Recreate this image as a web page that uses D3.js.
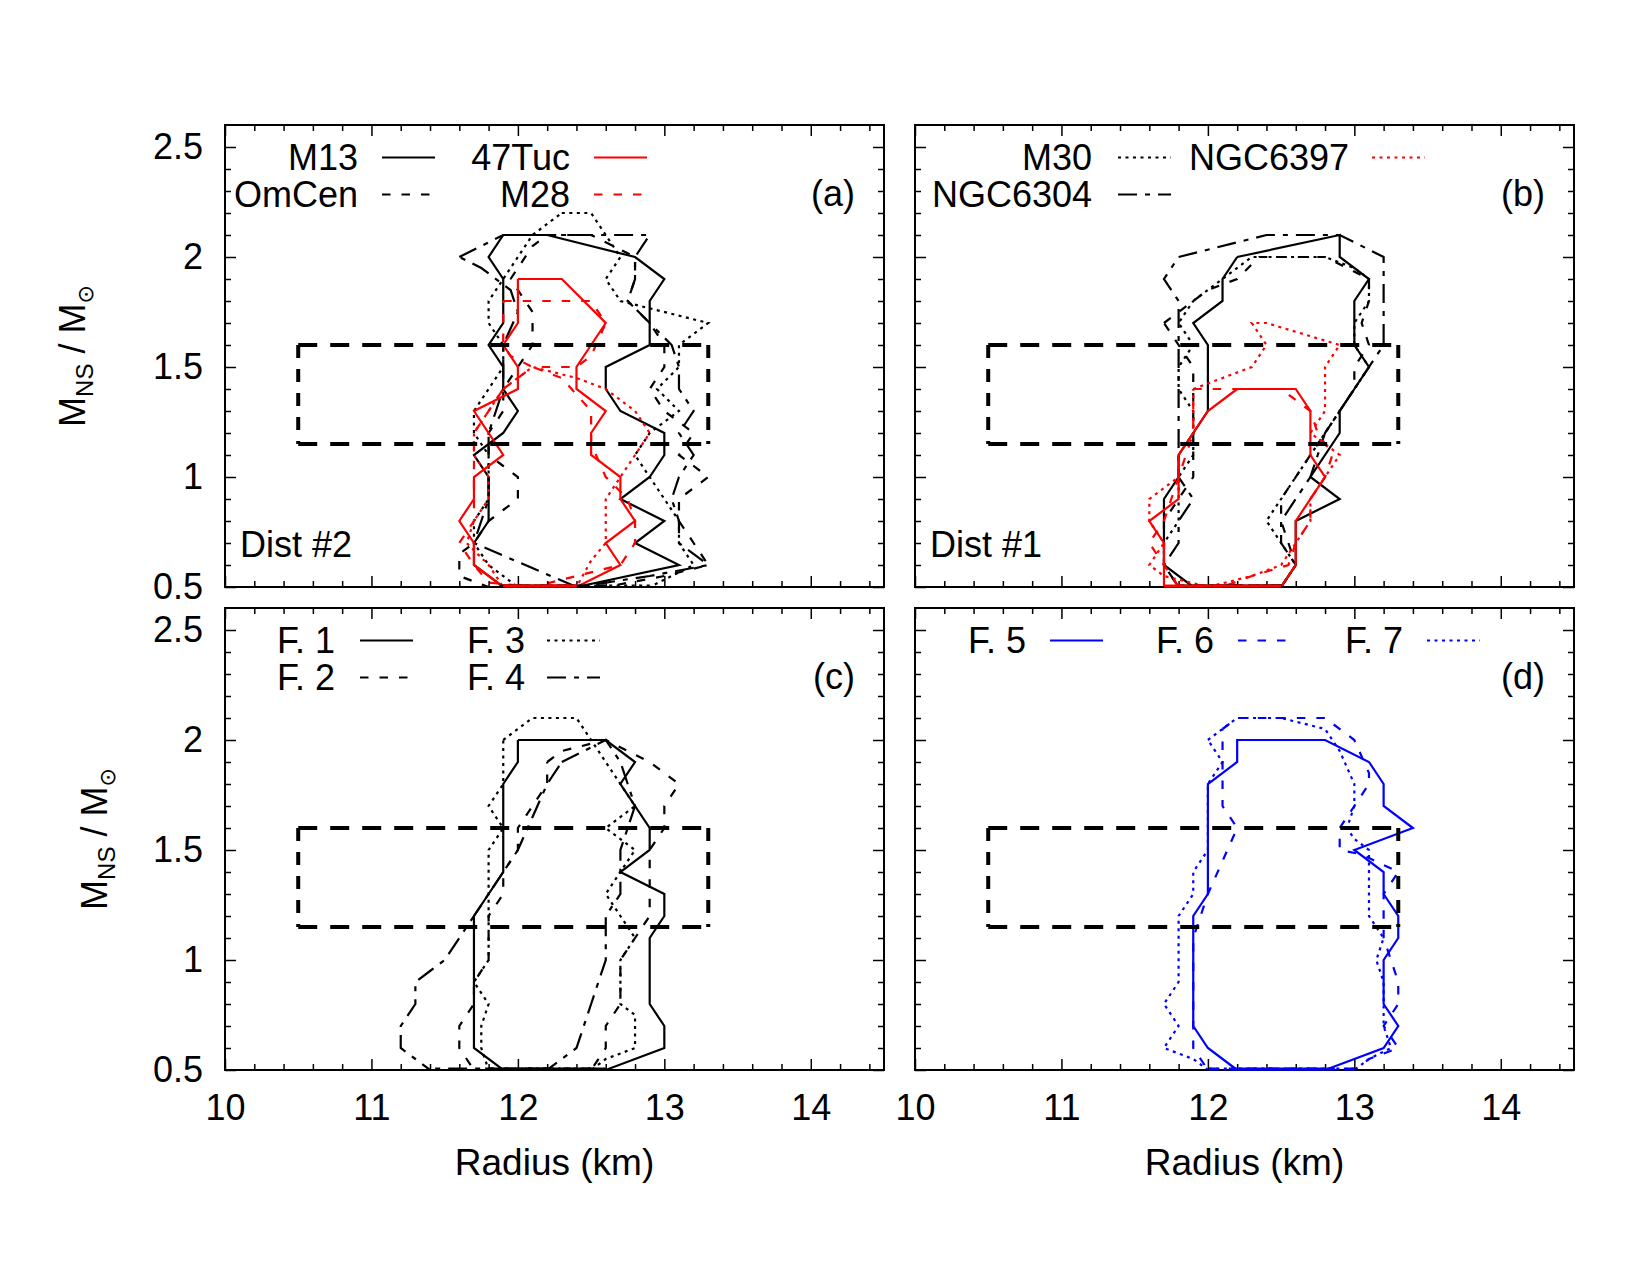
<!DOCTYPE html>
<html>
<head>
<meta charset="utf-8">
<script src="https://cdn.jsdelivr.net/npm/d3@7"></script>
<style>
body { margin: 0; background: #fff; }
svg { display: block; }
text { font-family: "Liberation Sans", Arial, Helvetica, sans-serif; }
</style>
</head>
<body>
<div id="chart"></div>
<script>
var W = 1650, H = 1275;

var xDomain = [10, 14.5];
var yDomain = [0.5, 2.6];
var xTickLabels = [10, 11, 12, 13, 14];
var yTickLabels = [0.5, 1, 1.5, 2, 2.5];
var boxRadius = [10.5, 13.3];
var boxMass = [1.15, 1.6];

// contours, [radius km, mass Msun], Dist #2 (panel a)
var m13A = [[11.9,2.1],[12.2,2.1],[12.8,2.0],[13.0,1.9],[12.9,1.8],[12.9,1.6],[12.6,1.5],[12.6,1.4],[12.7,1.3],[13.0,1.2],[13.0,1.1],[12.9,1.0],[12.7,0.9],[13.0,0.8],[12.8,0.7],[13.1,0.6],[12.4,0.5],[11.9,0.5],[11.7,0.6],[11.7,0.7],[11.8,0.8],[11.8,1.0],[11.7,1.1],[11.9,1.2],[12.0,1.3],[11.9,1.4],[11.9,1.5],[11.8,1.6],[11.9,1.7],[11.9,1.9],[11.8,2.0]];
var omCenA = [[11.95,1.9],[12.1,2.05],[12.2,2.1],[12.5,2.1],[12.8,2.0],[12.8,1.9],[12.75,1.8],[12.9,1.7],[13.0,1.6],[13.0,1.5],[12.9,1.4],[13.0,1.3],[13.2,1.2],[13.1,1.1],[13.3,1.0],[13.1,0.9],[13.1,0.8],[13.2,0.7],[13.3,0.6],[13.0,0.55],[12.6,0.5],[11.8,0.5],[11.6,0.55],[11.6,0.65],[11.7,0.7],[11.8,0.8],[11.9,0.85],[12.0,0.9],[12.0,1.0],[11.9,1.05],[11.8,1.1],[11.8,1.2],[11.9,1.3],[11.9,1.4],[12.0,1.5],[12.1,1.6],[12.1,1.75]];
var m30A = [[12.3,2.2],[12.5,2.2],[12.6,2.1],[12.7,2.0],[12.6,1.9],[12.7,1.8],[13.3,1.7],[13.1,1.6],[13.1,1.5],[12.95,1.4],[13.1,1.3],[12.9,1.2],[12.8,1.1],[12.9,1.0],[13.0,0.9],[13.1,0.8],[13.1,0.7],[13.2,0.6],[12.9,0.5],[12.0,0.5],[11.8,0.6],[11.7,0.7],[11.7,0.8],[11.8,0.9],[11.8,1.0],[11.8,1.1],[11.7,1.2],[11.7,1.3],[11.8,1.4],[11.9,1.5],[11.9,1.6],[11.8,1.7],[11.8,1.8],[11.9,1.9],[12.0,2.0],[12.1,2.1]];
var ngc6304A = [[11.6,2.0],[11.9,2.1],[12.9,2.1],[12.8,2.0],[12.8,1.9],[12.75,1.8],[12.9,1.7],[13.05,1.6],[13.1,1.5],[13.1,1.4],[13.2,1.3],[13.1,1.2],[13.2,1.1],[13.1,1.0],[13.05,0.9],[13.1,0.8],[13.1,0.7],[13.3,0.6],[12.9,0.55],[12.4,0.5],[11.7,0.7],[11.75,0.8],[11.8,0.9],[11.8,1.0],[11.8,1.2],[11.85,1.3],[11.9,1.4],[11.9,1.6],[12.0,1.75],[11.95,1.85],[11.75,1.95]];
var tuc47A = [[12.0,1.9],[12.3,1.9],[12.6,1.7],[12.4,1.5],[12.4,1.4],[12.6,1.3],[12.5,1.2],[12.5,1.1],[12.7,1.0],[12.7,0.9],[12.8,0.8],[12.6,0.7],[12.7,0.6],[12.4,0.5],[11.9,0.5],[11.7,0.6],[11.7,0.7],[11.6,0.8],[11.7,0.9],[11.7,1.0],[11.9,1.1],[11.8,1.2],[11.7,1.3],[12.0,1.4],[12.0,1.5],[11.9,1.6],[12.0,1.7]];
var m28AUpper = [[11.9,1.8],[12.5,1.8],[12.6,1.7],[12.5,1.55],[12.4,1.5],[12.1,1.5],[11.95,1.55],[11.9,1.6]];
var m28ALower = [[11.9,1.4],[12.1,1.5],[12.3,1.45],[12.5,1.3],[12.5,1.15],[12.6,1.0],[12.75,0.9],[12.8,0.8],[12.8,0.7],[12.7,0.6],[12.4,0.55],[12.1,0.5],[11.8,0.52],[11.7,0.6],[11.6,0.7],[11.7,0.8],[11.7,1.0],[11.7,1.2],[11.8,1.3]];
var ngc6397A = [[11.9,1.4],[12.1,1.5],[12.4,1.45],[12.6,1.4],[12.8,1.3],[12.9,1.2],[12.8,1.1],[12.7,1.0],[12.6,0.9],[12.6,0.8],[12.6,0.7],[12.5,0.62],[12.4,0.5],[11.9,0.5],[11.8,0.6],[11.65,0.7],[11.7,0.8],[11.8,0.9],[11.8,1.0],[11.7,1.1],[11.7,1.2],[11.8,1.3]];

// Dist #1 (panel b)
var m13B = [[12.2,2.0],[12.9,2.1],[12.9,2.0],[13.1,1.9],[13.0,1.8],[13.0,1.6],[13.1,1.5],[13.0,1.4],[12.9,1.3],[12.9,1.2],[12.7,1.0],[12.9,0.9],[12.6,0.8],[12.6,0.6],[12.5,0.5],[11.9,0.5],[11.7,0.6],[11.7,0.9],[11.8,1.0],[11.8,1.1],[11.9,1.2],[12.0,1.3],[12.0,1.6],[11.9,1.7],[12.1,1.8],[12.1,1.9]];
var omCenB = [[11.7,1.7],[12.0,1.85],[12.2,1.9],[12.35,2.0],[12.8,2.0],[13.1,1.9],[13.1,1.8],[13.05,1.7],[13.1,1.6],[13.0,1.5],[13.0,1.4],[12.9,1.3],[12.8,1.2],[12.7,1.1],[12.6,1.0],[12.5,0.9],[12.5,0.8],[12.55,0.7],[12.6,0.6],[12.5,0.5],[11.8,0.5],[11.7,0.6],[11.7,0.8],[11.8,0.9],[11.9,1.0],[11.9,1.1],[11.9,1.2],[11.9,1.4],[11.9,1.5],[11.8,1.6]];
var m30B = [[11.9,1.8],[12.1,1.9],[12.3,2.0],[12.8,2.0],[13.0,1.95],[13.1,1.9],[13.1,1.8],[13.0,1.7],[13.0,1.6],[13.1,1.5],[13.0,1.4],[12.9,1.3],[12.8,1.2],[12.7,1.1],[12.6,1.0],[12.5,0.9],[12.4,0.8],[12.5,0.7],[12.6,0.6],[12.5,0.5],[11.8,0.5],[11.7,0.6],[11.7,0.7],[11.8,0.8],[11.8,1.0],[11.9,1.1],[11.9,1.3],[11.8,1.4],[11.8,1.5],[11.9,1.6],[11.8,1.7]];
var ngc6304B = [[11.8,2.0],[12.4,2.1],[12.9,2.1],[13.2,2.0],[13.2,1.9],[13.2,1.6],[13.1,1.5],[13.0,1.4],[12.9,1.3],[12.8,1.2],[12.75,1.1],[12.7,1.0],[12.6,0.9],[12.5,0.8],[12.5,0.7],[12.6,0.6],[12.5,0.5],[11.8,0.5],[11.7,0.6],[11.8,0.7],[11.8,0.8],[11.9,0.9],[11.8,1.0],[11.8,1.2],[11.8,1.5],[11.8,1.8],[11.7,1.9]];
var tuc47B = [[12.2,1.4],[12.6,1.4],[12.7,1.3],[12.7,1.1],[12.8,1.0],[12.6,0.8],[12.6,0.6],[12.5,0.5],[11.7,0.5],[11.7,0.7],[11.6,0.8],[11.8,0.9],[11.8,1.1],[11.9,1.2],[12.0,1.3]];
var m28B = [[11.9,1.4],[12.5,1.4],[12.7,1.3],[12.75,1.2],[12.85,1.1],[12.8,1.0],[12.7,0.9],[12.7,0.8],[12.6,0.7],[12.55,0.6],[12.3,0.55],[12.1,0.5],[11.8,0.5],[11.7,0.6],[11.6,0.7],[11.7,0.8],[11.75,0.9],[11.8,1.0],[11.85,1.1],[11.9,1.2]];
var ngc6397B = [[11.9,1.4],[12.3,1.5],[12.4,1.6],[12.3,1.7],[12.4,1.7],[12.9,1.6],[12.8,1.5],[12.8,1.3],[12.7,1.2],[12.9,1.1],[12.8,1.0],[12.7,0.9],[12.7,0.8],[12.6,0.7],[12.5,0.6],[12.3,0.55],[12.0,0.5],[11.7,0.55],[11.6,0.6],[11.7,0.7],[11.6,0.8],[11.6,0.9],[11.7,0.95],[11.8,1.0],[11.8,1.1],[11.9,1.2]];

// F. 1 - F. 4 (panel c)
var f1 = [[12.0,2.0],[12.6,2.0],[12.8,1.9],[12.7,1.8],[12.9,1.6],[12.9,1.5],[12.7,1.4],[13.0,1.3],[13.0,1.2],[12.9,1.1],[12.9,0.8],[13.0,0.7],[13.0,0.6],[12.6,0.5],[11.9,0.5],[11.7,0.6],[11.7,1.2],[11.9,1.4],[11.9,1.8],[12.0,1.9]];
var f2 = [[12.2,1.9],[12.3,1.95],[12.6,2.0],[12.9,1.9],[13.1,1.8],[13.0,1.7],[13.0,1.6],[12.9,1.5],[12.9,1.3],[12.9,1.2],[12.8,1.1],[12.7,1.0],[12.7,0.8],[12.6,0.7],[12.6,0.6],[12.5,0.5],[11.7,0.5],[11.6,0.6],[11.6,0.7],[11.7,0.8],[11.7,0.9],[11.8,1.0],[11.8,1.2],[11.9,1.3],[11.9,1.4],[12.0,1.5],[12.0,1.6],[12.2,1.8]];
var f3 = [[11.9,2.0],[12.1,2.1],[12.4,2.1],[12.6,1.9],[12.8,1.7],[12.6,1.6],[12.8,1.5],[12.7,1.4],[12.6,1.3],[12.7,1.2],[12.8,1.1],[12.7,1.0],[12.7,0.8],[12.8,0.75],[12.8,0.6],[12.6,0.55],[12.5,0.5],[11.8,0.5],[11.75,0.6],[11.75,0.7],[11.8,0.8],[11.7,0.9],[11.8,1.0],[11.8,1.5],[11.9,1.6],[11.8,1.7],[11.9,1.8]];
var f4 = [[12.3,1.9],[12.45,1.95],[12.6,2.0],[12.7,1.9],[12.75,1.8],[12.8,1.7],[12.75,1.6],[12.7,1.5],[12.7,1.4],[12.7,1.3],[12.6,1.2],[12.6,1.0],[12.5,0.8],[12.45,0.7],[12.4,0.6],[12.2,0.5],[11.4,0.5],[11.3,0.55],[11.2,0.6],[11.2,0.7],[11.3,0.8],[11.3,0.9],[11.4,0.95],[11.5,1.0],[11.6,1.1],[11.7,1.2],[11.9,1.4],[12.0,1.5],[12.1,1.65],[12.2,1.8]];

// F. 5 - F. 7 (panel d)
var f5 = [[12.2,0.5],[12.8,0.5],[13.2,0.6],[13.3,0.7],[13.2,0.8],[13.2,1.0],[13.3,1.1],[13.3,1.2],[13.2,1.3],[13.2,1.4],[13.0,1.5],[13.4,1.6],[13.2,1.7],[13.2,1.8],[13.1,1.9],[12.8,2.0],[12.2,2.0],[12.2,1.9],[12.0,1.8],[12.0,1.3],[11.9,1.2],[11.9,0.7],[12.0,0.6]];
var f6 = [[12.1,2.05],[12.2,2.1],[12.8,2.1],[13.0,2.0],[13.1,1.85],[13.1,1.8],[13.0,1.7],[12.9,1.6],[12.9,1.5],[13.05,1.48],[13.3,1.4],[13.2,1.3],[13.2,1.2],[13.2,1.1],[13.3,0.9],[13.3,0.8],[13.2,0.7],[13.3,0.6],[13.1,0.55],[13.0,0.5],[12.0,0.5],[11.9,0.6],[11.9,0.8],[11.9,1.0],[11.9,1.1],[12.0,1.3],[12.1,1.45],[12.2,1.6],[12.1,1.7],[12.1,1.9]];
var f7 = [[12.0,2.0],[12.2,2.1],[12.5,2.1],[12.8,2.05],[12.9,1.95],[13.0,1.8],[13.0,1.7],[12.95,1.6],[13.0,1.55],[13.1,1.5],[13.1,1.2],[13.2,1.1],[13.15,1.0],[13.2,0.9],[13.2,0.8],[13.2,0.7],[13.25,0.6],[13.1,0.55],[13.0,0.5],[12.0,0.5],[11.9,0.55],[11.7,0.6],[11.8,0.7],[11.7,0.8],[11.8,0.9],[11.8,1.2],[11.9,1.3],[11.9,1.4],[12.0,1.5],[12.0,1.8],[12.1,1.9]];

var black = "#000000", red = "#ff0000", blue = "#0000ff";
var dashes = {solid: null, dashed: "8.5,11", dotted: "3,4.5", dashdot: "19,8,5,8"};

var panels = [
	{id: "a", x0: 225, y0: 125, tag: "(a)", note: "Dist #2", xLabels: false, yLabels: true,
		cols: [{right: 358, x1: 382}, {right: 570, x1: 594}], rows: [170, 207],
		series: [
			{name: "M13", rings: [m13A], color: black, dash: "solid", slot: [0, 0]},
			{name: "OmCen", rings: [omCenA], color: black, dash: "dashed", slot: [0, 1]},
			{name: "M30", rings: [m30A], color: black, dash: "dotted"},
			{name: "NGC6304", rings: [ngc6304A], color: black, dash: "dashdot"},
			{name: "47Tuc", rings: [tuc47A], color: red, dash: "solid", slot: [1, 0]},
			{name: "M28", rings: [m28AUpper, m28ALower], color: red, dash: "dashed", slot: [1, 1]},
			{name: "NGC6397", rings: [ngc6397A], color: red, dash: "dotted"}
		]},
	{id: "b", x0: 915, y0: 125, tag: "(b)", note: "Dist #1", xLabels: false, yLabels: false,
		cols: [{right: 1092, x1: 1118}, {right: 1349, x1: 1372}], rows: [170, 207],
		series: [
			{name: "M13", rings: [m13B], color: black, dash: "solid"},
			{name: "OmCen", rings: [omCenB], color: black, dash: "dashed"},
			{name: "M30", rings: [m30B], color: black, dash: "dotted", slot: [0, 0]},
			{name: "NGC6304", rings: [ngc6304B], color: black, dash: "dashdot", slot: [0, 1]},
			{name: "47Tuc", rings: [tuc47B], color: red, dash: "solid"},
			{name: "M28", rings: [m28B], color: red, dash: "dashed"},
			{name: "NGC6397", rings: [ngc6397B], color: red, dash: "dotted", slot: [1, 0]}
		]},
	{id: "c", x0: 225, y0: 608, tag: "(c)", note: null, xLabels: true, yLabels: true,
		cols: [{right: 335, x1: 360}, {right: 525, x1: 547}], rows: [653, 690],
		series: [
			{name: "F. 1", rings: [f1], color: black, dash: "solid", slot: [0, 0]},
			{name: "F. 2", rings: [f2], color: black, dash: "dashed", slot: [0, 1]},
			{name: "F. 3", rings: [f3], color: black, dash: "dotted", slot: [1, 0]},
			{name: "F. 4", rings: [f4], color: black, dash: "dashdot", slot: [1, 1]}
		]},
	{id: "d", x0: 915, y0: 608, tag: "(d)", note: null, xLabels: true, yLabels: false,
		cols: [{right: 1026, x1: 1050}, {right: 1214, x1: 1238}, {right: 1403, x1: 1427}], rows: [653],
		series: [
			{name: "F. 5", rings: [f5], color: blue, dash: "solid", slot: [0, 0]},
			{name: "F. 6", rings: [f6], color: blue, dash: "dashed", slot: [1, 0]},
			{name: "F. 7", rings: [f7], color: blue, dash: "dotted", slot: [2, 0]}
		]}
];

var pw = 659, ph = 462;
var fontSize = 36;

var svg = d3.select("#chart").append("svg")
	.attr("width", W)
	.attr("height", H)
	.style("background", "#fff");

var xMinor = d3.range(0, 23).map(i => 10 + i * 0.2).filter(v => Math.abs(v - Math.round(v)) > 1e-6);
var yMinor = d3.range(1, 21).map(i => 0.5 + i * 0.1).filter(v => Math.abs(v * 2 - Math.round(v * 2)) > 1e-6);

panels.forEach(p => {
	var x = d3.scaleLinear().domain(xDomain).range([0, pw]);
	var y = d3.scaleLinear().domain(yDomain).range([ph, 0]);
	var g = svg.append("g").attr("transform", `translate(${p.x0},${p.y0})`);

	// a little slack so contour edges lying on the frame stay visible
	g.append("clipPath").attr("id", "clip-" + p.id)
		.append("rect").attr("x", -2).attr("y", -2).attr("width", pw + 4).attr("height", ph + 4);

	var line = d3.line().x(d => x(d[0])).y(d => y(d[1]));
	var plot = g.append("g").attr("clip-path", `url(#clip-${p.id})`);
	p.series.forEach(s => {
		s.rings.forEach(r => {
			plot.append("path")
				.attr("d", line(r.concat([r[0]])))
				.attr("fill", "none")
				.attr("stroke", s.color)
				.attr("stroke-width", 2.2)
				.attr("stroke-dasharray", dashes[s.dash])
				.attr("stroke-linejoin", "miter");
		});
	});

	// dashed reference box
	var bx0 = x(boxRadius[0]), bx1 = x(boxRadius[1]), by0 = y(boxMass[1]), by1 = y(boxMass[0]);
	var boxEdges = [
		[[bx0, by0], [bx1, by0], "19,13"],
		[[bx0, by1], [bx1, by1], "19,13"],
		[[bx0, by0], [bx0, by1], "13,11"],
		[[bx1, by0], [bx1, by1], "13,11"]
	];
	boxEdges.forEach(e => {
		g.append("line")
			.attr("x1", e[0][0]).attr("y1", e[0][1])
			.attr("x2", e[1][0]).attr("y2", e[1][1])
			.attr("stroke", "#000")
			.attr("stroke-width", 4)
			.attr("stroke-dasharray", e[2]);
	});

	// ticks on all four sides
	function styleAxis(sel) {
		sel.attr("font-family", null).attr("font-size", null);
		sel.select(".domain").remove();
		sel.selectAll(".tick line").attr("stroke", "#000").attr("stroke-width", 1.5);
		sel.selectAll("text").style("font-size", fontSize + "px").attr("fill", "#000");
	}
	g.append("g").attr("transform", `translate(0,${ph})`)
		.call(d3.axisBottom(x).tickValues(xTickLabels).tickSize(-11).tickSizeOuter(0).tickPadding(24)
			.tickFormat(p.xLabels ? d3.format("d") : ""))
		.call(styleAxis);
	g.append("g").attr("transform", `translate(0,${ph})`)
		.call(d3.axisBottom(x).tickValues(xMinor).tickSize(-6).tickSizeOuter(0).tickFormat(""))
		.call(styleAxis);
	g.append("g")
		.call(d3.axisTop(x).tickValues(xTickLabels).tickSize(-11).tickSizeOuter(0).tickFormat(""))
		.call(styleAxis);
	g.append("g")
		.call(d3.axisTop(x).tickValues(xMinor).tickSize(-6).tickSizeOuter(0).tickFormat(""))
		.call(styleAxis);
	g.append("g")
		.call(d3.axisLeft(y).tickValues(yTickLabels).tickSize(-11).tickSizeOuter(0).tickPadding(22)
			.tickFormat(p.yLabels ? d3.format("") : ""))
		.call(styleAxis);
	g.append("g")
		.call(d3.axisLeft(y).tickValues(yMinor).tickSize(-6).tickSizeOuter(0).tickFormat(""))
		.call(styleAxis);
	g.append("g").attr("transform", `translate(${pw},0)`)
		.call(d3.axisRight(y).tickValues(yTickLabels).tickSize(-11).tickSizeOuter(0).tickFormat(""))
		.call(styleAxis);
	g.append("g").attr("transform", `translate(${pw},0)`)
		.call(d3.axisRight(y).tickValues(yMinor).tickSize(-6).tickSizeOuter(0).tickFormat(""))
		.call(styleAxis);

	g.append("rect")
		.attr("width", pw).attr("height", ph)
		.attr("fill", "none")
		.attr("stroke", "#000")
		.attr("stroke-width", 2);

	// redraw contour edges that run along the bottom frame so they show on top of it
	p.series.forEach(s => {
		s.rings.forEach(r => {
			var pts = r.concat([r[0]]);
			for(var i = 0; i < pts.length - 1; i++) {
				if(pts[i][1] === yDomain[0] && pts[i + 1][1] === yDomain[0]) {
					g.append("line")
						.attr("x1", x(pts[i][0])).attr("x2", x(pts[i + 1][0]))
						.attr("y1", ph - 1).attr("y2", ph - 1)
						.attr("stroke", s.color)
						.attr("stroke-width", 3)
						.attr("stroke-dasharray", dashes[s.dash]);
				}
			}
		});
	});

	// legend (absolute coordinates)
	p.series.filter(s => s.slot).forEach(s => {
		var col = p.cols[s.slot[0]], base = p.rows[s.slot[1]];
		svg.append("text")
			.attr("x", col.right).attr("y", base)
			.attr("text-anchor", "end")
			.style("font-size", fontSize + "px")
			.text(s.name);
		svg.append("line")
			.attr("x1", col.x1).attr("x2", col.x1 + 53)
			.attr("y1", base - 12.5).attr("y2", base - 12.5)
			.attr("stroke", s.color)
			.attr("stroke-width", 2.2)
			.attr("stroke-dasharray", dashes[s.dash]);
	});

	svg.append("text")
		.attr("x", p.x0 + pw - 29).attr("y", p.y0 + 81)
		.attr("text-anchor", "end")
		.style("font-size", fontSize + "px")
		.text(p.tag);

	if(p.note) {
		svg.append("text")
			.attr("x", p.x0 + 15).attr("y", p.y0 + 432)
			.style("font-size", fontSize + "px")
			.text(p.note);
	}

	if(p.xLabels) {
		svg.append("text")
			.attr("x", p.x0 + pw / 2).attr("y", 1175)
			.attr("text-anchor", "middle")
			.style("font-size", "37px")
			.text("Radius (km)");
	}
});

// y axis titles
function yTitle(bx, cy) {
	var t = svg.append("text")
		.attr("transform", `translate(${bx},${cy}) rotate(-90)`)
		.attr("text-anchor", "middle")
		.style("font-size", fontSize + "px");
	t.append("tspan").text("M");
	t.append("tspan").attr("dy", 8).style("font-size", "24px").text("NS");
	t.append("tspan").attr("dy", -8).text(" / M");
	t.append("tspan").attr("dy", 8).style("font-size", "22px")
		.style("font-family", "'DejaVu Sans', sans-serif").text("\u2299");
}
yTitle(85, 356);
yTitle(107, 839);
</script>
</body>
</html>
